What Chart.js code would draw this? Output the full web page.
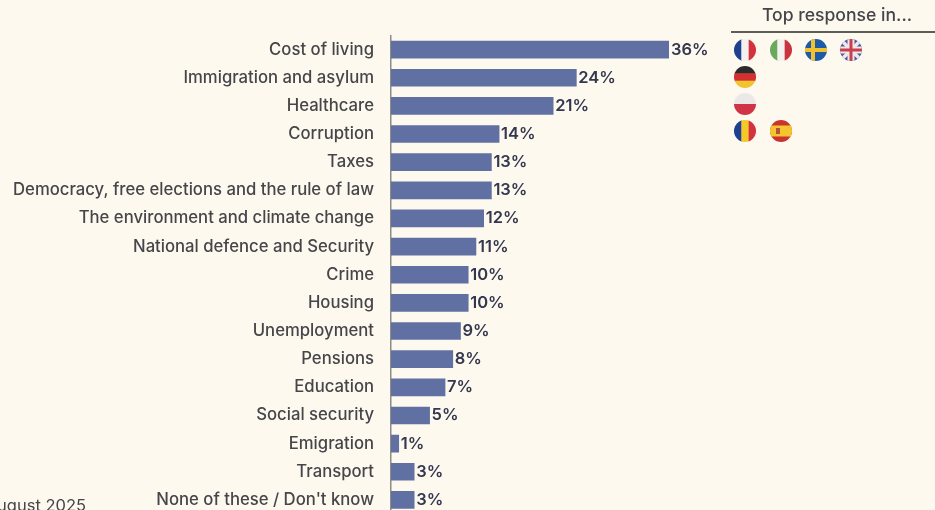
<!DOCTYPE html>
<html>
<head>
<meta charset="utf-8">
<title>Top issues</title>
<script src="https://cdn.jsdelivr.net/npm/chart.js@4"></script>
<style>
  html, body { margin: 0; padding: 0; width: 935px; height: 510px; overflow: hidden; background: #fef9ee; }
  #wrap { position: absolute; left: 0; top: 0; width: 935px; height: 541px; }
</style>
</head>
<body>
<div id="wrap"><canvas id="issues" width="935" height="541"></canvas></div>
<script>
  const categories = [
    'Cost of living', 'Immigration and asylum', 'Healthcare', 'Corruption', 'Taxes',
    'Democracy, free elections and the rule of law', 'The environment and climate change',
    'National defence and Security', 'Crime', 'Housing', 'Unemployment', 'Pensions',
    'Education', 'Social security', 'Emigration', 'Transport', "None of these / Don't know"
  ];
  const shares = [36, 24, 21, 14, 13, 13, 12, 11, 10, 10, 9, 8, 7, 5, 1, 3, 3];

  // countries whose top response is the issue on the same row
  const topCountries = [
    ['fr', 'it', 'se', 'uk'],
    ['de'],
    ['pl'],
    ['ro', 'es']
  ];

  const legendTitle = 'Top response in...';
  const sourceNote = 'August 2025';

  const FONT = 'Inter, "Noto Sans", sans-serif';
  const BAR = '#6070a3';
  const LABEL = '#45454a';
  const VALUE = '#33374f';

  const AXIS_X = 391;
  const FLAG_R = 11;
  const FLAG_COLS = [745, 781, 816, 851];
  const FLAG_ROWS = [50, 77, 104, 131];

  const STRIPES = {
    fr: { dir: 'v', colors: ['#1f3f8f', '#f4f1ee', '#d4323c'] },
    it: { dir: 'v', colors: ['#6aa85c', '#f4f1ee', '#c9343f'] },
    de: { dir: 'h', colors: ['#2b2b2b', '#d3302f', '#f2c230'] },
    pl: { dir: 'h', colors: ['#ece8e8', '#cf3345'] },
    ro: { dir: 'v', colors: ['#1f3f8f', '#f5c927', '#d4323c'] }
  };

  function drawStripes(ctx, x, y, r, flag) {
    const n = flag.colors.length;
    flag.colors.forEach((c, i) => {
      ctx.fillStyle = c;
      if (flag.dir === 'v') ctx.fillRect(x - r + (2 * r * i) / n, y - r, (2 * r) / n + 0.5, 2 * r);
      else ctx.fillRect(x - r, y - r + (2 * r * i) / n, 2 * r, (2 * r) / n + 0.5);
    });
  }

  function drawFlag(ctx, code, x, y, r) {
    ctx.save();
    ctx.beginPath();
    ctx.arc(x, y, r, 0, Math.PI * 2);
    ctx.clip();
    if (STRIPES[code]) {
      drawStripes(ctx, x, y, r, STRIPES[code]);
    } else if (code === 'se') {
      ctx.fillStyle = '#1f5aa8';
      ctx.fillRect(x - r, y - r, 2 * r, 2 * r);
      ctx.fillStyle = '#f0c22e';
      ctx.fillRect(x - r, y - 2, 2 * r, 4);
      ctx.fillRect(x - 5, y - r, 4, 2 * r);
    } else if (code === 'es') {
      ctx.fillStyle = '#c9342f';
      ctx.fillRect(x - r, y - r, 2 * r, 2 * r);
      ctx.fillStyle = '#f4c52e';
      ctx.fillRect(x - r, y - 5.5, 2 * r, 11);
      ctx.fillStyle = '#b5533a';
      ctx.fillRect(x - 5, y - 3, 4, 6);
    } else if (code === 'uk') {
      ctx.fillStyle = '#4a5a9c';
      ctx.fillRect(x - r, y - r, 2 * r, 2 * r);
      ctx.strokeStyle = '#f2e6ea';
      ctx.lineWidth = 3.5;
      ctx.beginPath();
      ctx.moveTo(x - r, y - r); ctx.lineTo(x + r, y + r);
      ctx.moveTo(x + r, y - r); ctx.lineTo(x - r, y + r);
      ctx.stroke();
      ctx.fillStyle = '#f2e6ea';
      ctx.fillRect(x - r, y - 3.5, 2 * r, 7);
      ctx.fillRect(x - 3.5, y - r, 7, 2 * r);
      ctx.fillStyle = '#c8404f';
      ctx.fillRect(x - r, y - 1.5, 2 * r, 3);
      ctx.fillRect(x - 1.5, y - r, 3, 2 * r);
    }
    ctx.restore();
  }

  // value labels, the legend column and the cropped footnote
  const annotations = {
    id: 'annotations',
    afterDatasetsDraw(chart) {
      const ctx = chart.ctx;
      const meta = chart.getDatasetMeta(0);

      ctx.save();
      ctx.font = '600 16.5px ' + FONT;
      ctx.fillStyle = VALUE;
      ctx.textAlign = 'left';
      ctx.textBaseline = 'middle';
      meta.data.forEach((bar, i) => {
        ctx.fillText(shares[i] + '%', bar.x + 2, bar.y);
      });

      ctx.font = '500 17.6px ' + FONT;
      ctx.fillStyle = LABEL;
      ctx.textAlign = 'center';
      ctx.fillText(legendTitle, 837, 16);
      ctx.fillStyle = '#5c5c58';
      ctx.fillRect(731, 31, 204, 2);

      topCountries.forEach((row, r) => {
        row.forEach((code, c) => drawFlag(ctx, code, FLAG_COLS[c], FLAG_ROWS[r], FLAG_R));
      });

      ctx.font = '400 16.5px ' + FONT;
      ctx.fillStyle = LABEL;
      ctx.textAlign = 'right';
      ctx.fillText(sourceNote, 86, 506);
      ctx.restore();
    }
  };

  new Chart(document.getElementById('issues'), {
    type: 'bar',
    data: {
      labels: categories,
      datasets: [{
        data: shares,
        backgroundColor: BAR,
        barThickness: 17,
        borderWidth: 0
      }]
    },
    options: {
      indexAxis: 'y',
      responsive: false,
      animation: false,
      // tick padding reserves the space below the last row, so no bottom padding here
      layout: { padding: { top: 35.5, bottom: 0, right: 266, left: 0 } },
      plugins: { legend: { display: false }, tooltip: { enabled: false } },
      scales: {
        x: { display: false, min: 0, max: 36 },
        y: {
          afterFit(axis) { axis.width = AXIS_X; },
          grid: { display: false, drawTicks: false },
          border: { color: '#8c8c88', width: 1.5 },
          ticks: {
            autoSkip: false,
            padding: 17,
            color: LABEL,
            font: { family: FONT, size: 16.7, weight: '500' }
          }
        }
      }
    },
    plugins: [annotations]
  });
</script>
</body>
</html>
